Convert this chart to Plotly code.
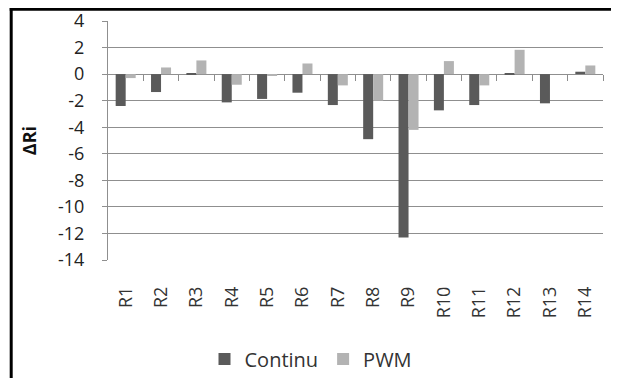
import plotly.graph_objects as go

categories = ["R1", "R2", "R3", "R4", "R5", "R6", "R7", "R8", "R9", "R10", "R11", "R12", "R13", "R14"]
continu = [-2.4, -1.35, 0.08, -2.13, -1.87, -1.4, -2.33, -4.9, -12.3, -2.73, -2.33, 0.08, -2.2, 0.18]
pwm = [-0.3, 0.5, 1.03, -0.8, -0.1, 0.8, -0.85, -2.0, -4.2, 0.98, -0.85, 1.83, 0.0, 0.65]
y_ticks = [4, 2, 0, -2, -4, -6, -8, -10, -12, -14]

FONT = "Open Sans"
OFF = 8  # default page body margin in the browser
W, H = 619 - OFF, 378 - OFF
L, T = 108 - OFF, 21 - OFF
R = W - (603 - OFF)
B = H - (260 - OFF)
pw, ph = W - L - R, H - T - B
ymin, ymax = -14, 4


def px_x(x):
    return (x - OFF - L) / pw


def px_y(y):
    return (H - B - (y - OFF)) / ph


fig = go.Figure()
fig.add_trace(go.Bar(name="Continu", x=categories, y=continu, marker=dict(color="#5a5a5a", line=dict(width=0))))
fig.add_trace(go.Bar(name="PWM", x=categories, y=pwm, marker=dict(color="#b3b3b3", line=dict(width=0))))
# invisible helper trace to draw category-boundary ticks on the zero line
fig.add_trace(go.Scatter(x=list(range(len(categories))), y=[0] * len(categories), xaxis="x2",
                         mode="markers", marker=dict(opacity=0), showlegend=False, hoverinfo="skip"))

n = len(categories)
fig.update_layout(
    width=W, height=H,
    margin=dict(l=L, r=R, t=T, b=B, pad=0, autoexpand=False),
    paper_bgcolor="white", plot_bgcolor="white",
    barmode="group", bargap=0.434, bargroupgap=0,
    font=dict(family=FONT, size=18, color="#222222"),
    xaxis=dict(type="category", tickangle=-90, showgrid=False, showline=False, ticks="",
               tickfont=dict(size=18, color="#333333"), range=[-0.5, n - 0.5],
               ticklabelstandoff=22, automargin=False),
    xaxis2=dict(overlaying="x", anchor="free", position=(0 - ymin) / (ymax - ymin), side="bottom",
                range=[-0.5, n - 0.5], tickvals=[i + 0.5 for i in range(n)], showticklabels=False,
                ticks="outside", ticklen=6, tickcolor="#8c8c8c", tickwidth=1,
                showgrid=False, showline=False, zeroline=False, automargin=False),
    yaxis=dict(range=[ymin, ymax], tickvals=y_ticks, ticktext=[str(v) for v in y_ticks],
               showgrid=True, gridcolor="#8f8f8f", gridwidth=1,
               zeroline=True, zerolinecolor="#8f8f8f", zerolinewidth=1,
               showline=True, linecolor="#8f8f8f", linewidth=1,
               ticks="outside", ticklen=5, tickcolor="#8f8f8f",
               tickfont=dict(size=18, color="#222222"), ticklabelstandoff=14, automargin=False,
               title=dict(text="<b>ΔRi</b>", font=dict(size=18, color="#111111"), standoff=16)),
    legend=dict(orientation="h", x=px_x(311), xanchor="center", y=px_y(359), yanchor="middle",
                font=dict(size=20, color="#333333"), itemsizing="constant", traceorder="normal"),
    showlegend=True,
)

# frame lines (cropped border of the original figure)
fig.add_shape(type="line", xref="paper", yref="paper",
              x0=px_x(11.2), x1=px_x(11.2), y0=px_y(OFF), y1=px_y(400),
              line=dict(color="black", width=3))
fig.add_shape(type="line", xref="paper", yref="paper",
              x0=px_x(9.7), x1=px_x(640), y0=px_y(OFF + 1.2), y1=px_y(OFF + 1.2),
              line=dict(color="black", width=3))

fig.write_html("out.html")
